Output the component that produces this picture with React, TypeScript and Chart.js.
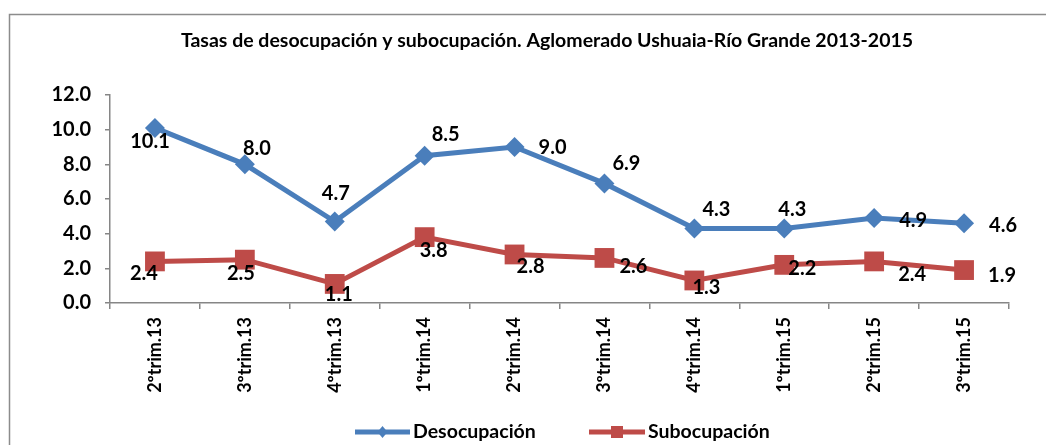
import React, { useEffect, useRef } from "react";
import { Chart, registerables } from "chart.js";

Chart.register(...registerables);

const categories = [
  "2ºtrim.13", "3ºtrim.13", "4ºtrim.13", "1ºtrim.14", "2ºtrim.14",
  "3ºtrim.14", "4ºtrim.14", "1ºtrim.15", "2ºtrim.15", "3ºtrim.15",
];
const desocupacion = [10.1, 8.0, 4.7, 8.5, 9.0, 6.9, 4.3, 4.3, 4.9, 4.6];
const subocupacion = [2.4, 2.5, 1.1, 3.8, 2.8, 2.6, 1.3, 2.2, 2.4, 1.9];
const yTicks = [0, 2, 4, 6, 8, 10, 12];

const titleText = "Tasas de desocupación y subocupación. Aglomerado Ushuaia-Río Grande 2013-2015";

// label placement per point (style): [dx, dy] offsets from the marker centre
const desLabelOffsets = [
  [-5, 14], [12, -16], [1, -28], [21, -21], [38, 1], [22, -20], [22, -19], [8, -19], [39, 2], [39, 2],
];
const subLabelOffsets = [
  [-11, 12], [-4, 14], [4, 11], [9, 13], [16, 12], [29, 9], [12, 7], [18, 4], [38, 13], [38, 5],
];

const BLUE = "#4A7EBB";
const RED = "#BE4B48";
const FONT = "Lato, 'Noto Sans', sans-serif";

const decorPlugin = {
  id: "decor",
  beforeDraw(chart: any) {
    const ctx = chart.ctx;
    ctx.save();
    ctx.fillStyle = "#ffffff";
    ctx.fillRect(0, 0, chart.width, chart.height);
    ctx.strokeStyle = "#8c8c8c";
    ctx.lineWidth = 1.5;
    ctx.beginPath();
    ctx.moveTo(9.5, chart.height + 5);
    ctx.lineTo(9.5, 14.5);
    ctx.lineTo(chart.width + 5, 14.5);
    ctx.stroke();
    ctx.restore();
  },
  afterDraw(chart: any) {
    const ctx = chart.ctx;
    ctx.save();
    // title
    ctx.fillStyle = "#000";
    ctx.font = `bold 19.5px ${FONT}`;
    ctx.textAlign = "center";
    ctx.textBaseline = "middle";
    ctx.fillText(titleText, 547, 41);

    // data labels
    ctx.font = `bold 20px ${FONT}`;
    const sets = [desLabelOffsets, subLabelOffsets];
    chart.data.datasets.forEach((ds: any, i: number) => {
      const meta = chart.getDatasetMeta(i);
      meta.data.forEach((pt: any, j: number) => {
        const off = sets[i][j];
        ctx.fillText(Number(ds.data[j]).toFixed(1), pt.x + off[0], pt.y + off[1]);
      });
    });

    // legend
    const items = [
      { label: chart.data.datasets[0].label, color: BLUE, shape: "diamond", x0: 355, x1: 410 },
      { label: chart.data.datasets[1].label, color: RED, shape: "square", x0: 589, x1: 645 },
    ];
    const ly = 432;
    items.forEach((it) => {
      ctx.strokeStyle = it.color;
      ctx.fillStyle = it.color;
      ctx.lineWidth = 5;
      ctx.beginPath();
      ctx.moveTo(it.x0, ly);
      ctx.lineTo(it.x1, ly);
      ctx.stroke();
      const cx = (it.x0 + it.x1) / 2;
      ctx.beginPath();
      if (it.shape === "diamond") {
        ctx.moveTo(cx, ly - 6);
        ctx.lineTo(cx + 5, ly);
        ctx.lineTo(cx, ly + 6);
        ctx.lineTo(cx - 5, ly);
        ctx.closePath();
      } else {
        ctx.rect(cx - 6, ly - 6, 12, 12);
      }
      ctx.fill();
      ctx.fillStyle = "#000";
      ctx.font = `bold 19.5px ${FONT}`;
      ctx.textAlign = "left";
      ctx.fillText(it.label, it.x1 + 3, ly);
    });
    ctx.restore();
  },
};

export default function App() {
  const ref = useRef<HTMLCanvasElement | null>(null);
  useEffect(() => {
    if (!ref.current) return;
    const chart = new Chart(ref.current, {
      type: "line",
      data: {
        labels: categories,
        datasets: [
          {
            label: "Desocupación",
            data: desocupacion,
            borderColor: BLUE,
            backgroundColor: BLUE,
            borderWidth: 5,
            pointStyle: "rectRot",
            pointRadius: 10,
            pointBorderWidth: 0,
            tension: 0,
          },
          {
            label: "Subocupación",
            data: subocupacion,
            borderColor: RED,
            backgroundColor: RED,
            borderWidth: 5,
            pointStyle: "rect",
            pointRadius: 14,
            pointBorderWidth: 0,
            tension: 0,
          },
        ],
      },
      options: {
        animation: false,
        responsive: true,
        maintainAspectRatio: false,
        layout: { padding: { top: 95, bottom: 42, right: 37, left: 0 } },
        plugins: {
          legend: { display: false },
          title: { display: false },
          tooltip: { enabled: false },
        },
        scales: {
          x: {
            type: "category",
            offset: true,
            grid: {
              offset: true,
              drawOnChartArea: false,
              drawTicks: true,
              tickLength: 6,
              color: "#868686",
              lineWidth: 1.5,
            },
            border: { display: true, color: "#868686", width: 1.5 },
            ticks: {
              color: "#000",
              font: { family: FONT, size: 18, weight: "bold" },
              minRotation: 90,
              maxRotation: 90,
              padding: 8,
              autoSkip: false,
            },
            afterFit(scale: any) {
              scale.height = 100;
            },
          },
          y: {
            min: 0,
            max: 12,
            afterBuildTicks(scale: any) {
              scale.ticks = yTicks.map((v) => ({ value: v }));
            },
            grid: {
              drawOnChartArea: false,
              drawTicks: true,
              tickLength: 5,
              color: "#868686",
              lineWidth: 1.5,
            },
            border: { display: true, color: "#868686", width: 1.5 },
            ticks: {
              color: "#000",
              font: { family: FONT, size: 20, weight: "bold" },
              padding: 14,
              callback: (v: any) => Number(v).toFixed(1),
            },
            afterFit(scale: any) {
              scale.width = 110;
            },
          },
        },
      },
      plugins: [decorPlugin],
    } as any);
    return () => chart.destroy();
  }, []);
  return (
    <div style={{ position: "absolute", left: 0, top: 0, width: 1046, height: 445 }}>
      <canvas ref={ref} />
    </div>
  );
}
